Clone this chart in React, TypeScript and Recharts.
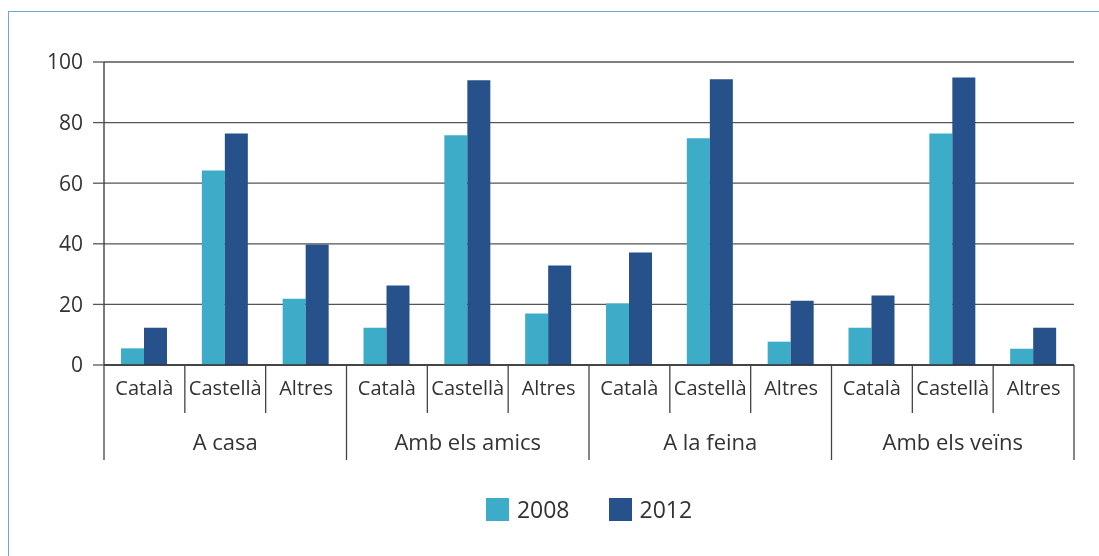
import React from 'react';
import { BarChart, Bar, XAxis, YAxis, CartesianGrid, Legend } from 'recharts';

const groups = ['A casa', 'Amb els amics', 'A la feina', 'Amb els veïns'];
const languages = ['Català', 'Castellà', 'Altres'];
const values2008 = [5.5, 64.2, 21.9, 12.3, 75.8, 17.0, 20.3, 74.8, 7.7, 12.3, 76.4, 5.4];
const values2012 = [12.3, 76.4, 39.8, 26.2, 94.0, 32.8, 37.1, 94.3, 21.2, 22.9, 94.9, 12.3];
const yTicks = [0, 20, 40, 60, 80, 100];
const seriesNames = ['2008', '2012'];

const COLOR_2008 = '#3dacc8';
const COLOR_2012 = '#26518a';
const TEXT = '#333333';
const FONT = '"Open Sans", "Noto Sans", sans-serif';

const data = groups.flatMap((g, gi) =>
  languages.map((l, li) => ({
    key: `${gi}-${li}`,
    group: g,
    lang: l,
    v2008: values2008[gi * 3 + li],
    v2012: values2012[gi * 3 + li],
  }))
);

const W = 1083;
const H = 540;

const CategoryTick = (props: any) => {
  const { x, y, payload, index } = props;
  const row = data[index];
  const half = payload && payload.offset ? payload.offset : 40.4;
  const li = index % 3;
  const isGroupStart = li === 0;
  const isLast = index === data.length - 1;
  return (
    <g>
      <text x={x} y={y + 30} textAnchor="middle" fill={TEXT} fontSize={20} fontFamily={FONT}>
        {row ? row.lang : ''}
      </text>
      <line x1={x - half} x2={x - half} y1={y} y2={isGroupStart ? y + 95 : y + 48} stroke="#444" strokeWidth={1.3} />
      {isLast && <line x1={x + half} x2={x + half} y1={y} y2={y + 95} stroke="#444" strokeWidth={1.3} />}
      {li === 1 && (
        <text x={x} y={y + 85} textAnchor="middle" fill={TEXT} fontSize={22} fontFamily={FONT}>
          {row ? row.group : ''}
        </text>
      )}
    </g>
  );
};

const LegendContent = (props: any) => {
  const { payload } = props;
  return (
    <div style={{ display: 'flex', justifyContent: 'center', alignItems: 'center', fontFamily: FONT, gap: 39 }}>
      {(payload || []).map((p: any) => (
        <div key={p.value} style={{ display: 'flex', alignItems: 'center' }}>
          <span style={{ display: 'inline-block', width: 23, height: 23, background: p.color, marginRight: 8 }} />
          <span style={{ fontSize: 23, color: TEXT, lineHeight: '23px' }}>{p.value}</span>
        </div>
      ))}
    </div>
  );
};

export default function App() {
  return (
    <div style={{ position: 'relative', width: W, height: H, background: '#fff' }}>
      <div
        style={{
          position: 'fixed',
          top: 11,
          left: 8,
          right: 0,
          bottom: 0,
          borderTop: '1px solid #6aa6d6',
          borderLeft: '1px solid #6aa6d6',
          pointerEvents: 'none',
        }}
      />
      <BarChart
        width={W}
        height={H}
        data={data}
        margin={{ top: 54, right: 17, left: 36, bottom: 83 }}
        barGap={0}
        barSize={23}
        style={{ position: 'absolute', top: 0, left: 0 }}
      >
        <CartesianGrid vertical={false} stroke="#555" strokeWidth={1.3} />
        <XAxis
          dataKey="key"
          interval={0}
          tickLine={false}
          tickSize={0}
          tickMargin={0}
          height={100}
          axisLine={{ stroke: '#333', strokeWidth: 1.3 }}
          tick={<CategoryTick />}
        />
        <YAxis
          width={60}
          domain={[0, 100]}
          ticks={yTicks}
          interval={0}
          tickSize={11}
          tickMargin={10}
          tickLine={{ stroke: '#555', strokeWidth: 1.3 }}
          axisLine={{ stroke: '#333', strokeWidth: 1.3 }}
          tick={{ fill: TEXT, fontSize: 21, fontFamily: FONT }}
        />
        <Legend
          verticalAlign="middle"
          layout="horizontal"
          align="center"
          wrapperStyle={{ top: 490, left: 96, width: 970 }}
          content={<LegendContent />}
        />
        <Bar dataKey="v2008" name={seriesNames[0]} fill={COLOR_2008} isAnimationActive={false} />
        <Bar dataKey="v2012" name={seriesNames[1]} fill={COLOR_2012} isAnimationActive={false} />
      </BarChart>
    </div>
  );
}
